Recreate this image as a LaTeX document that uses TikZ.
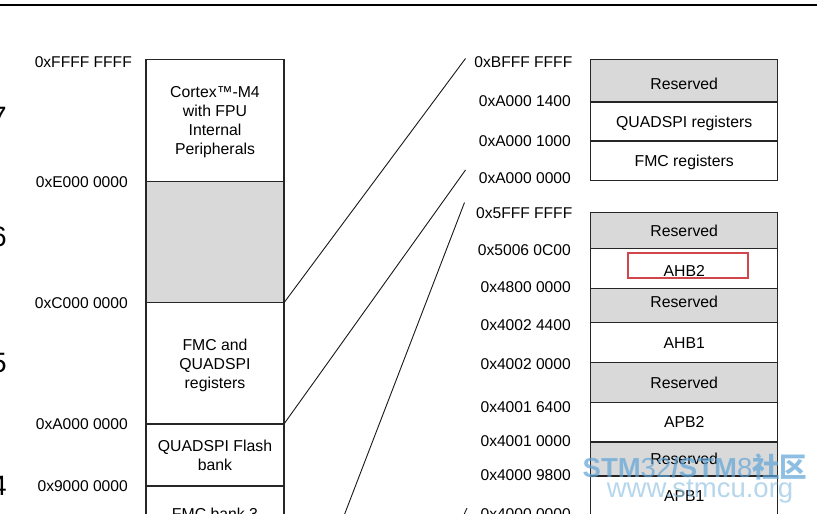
\documentclass[tikz,border=0pt]{standalone}
\usepackage{fontspec}
\setmainfont{Liberation Sans}
\newfontfamily\cjkwm{Noto Sans CJK SC}
\definecolor{mapGray}{RGB}{217,217,217}
\definecolor{mapRed}{RGB}{210,70,75}
\definecolor{wmBlue}{RGB}{95,165,215}
\definecolor{wmLight}{RGB}{150,198,228}
\usetikzlibrary{positioning}

\begin{document}
\begin{tikzpicture}[x=1pt, y=-1pt,
  region/.style={draw=black!85, line width=1.2pt, inner sep=0pt, outer sep=0pt,
                 align=center, text depth=0pt, font=\fontsize{15.8}{19}\selectfont},
  oneline/.style={text height=11.3pt},
  lblk/.style={region, minimum width=138pt},
  rblk/.style={region, oneline, minimum width=187pt},
  rsvd/.style={fill=mapGray},
  addr/.style={anchor=east, inner sep=0pt, font=\fontsize{15.6}{19}\selectfont},
  blkno/.style={anchor=east, inner sep=0pt, font=\fontsize{28}{30}\selectfont},
  hlbox/.style={draw=mapRed, line width=2pt, inner sep=0pt, minimum width=119.4pt, minimum height=25pt},
  link/.style={draw=black!90, line width=0.9pt},
  wm/.style={anchor=base, inner sep=0pt, text opacity=0.7, font=\fontsize{27.5}{29}\selectfont}
]
  \useasboundingbox (0,0) rectangle (817,514);
  \clip (0,0) rectangle (817,514);
  \fill[white] (0,0) rectangle (817,514);
  \draw[line width=1.3pt] (0,5) -- (817,5);

  % left column
  \node[lblk, minimum height=122.2pt, anchor=north] (cortex) at (215,59.5) {Cortex™-M4\\with FPU\\Internal\\Peripherals};
  \node[lblk, rsvd, minimum height=121pt, below=0pt of cortex]  (blk6)   {};
  \node[lblk, minimum height=121.3pt, below=0pt of blk6]        (fmcq)   {FMC and\\QUADSPI\\registers};
  \node[lblk, minimum height=62pt, below=0pt of fmcq]           (qflash) {QUADSPI Flash\\bank};
  \node[lblk, oneline, minimum height=56pt, below=0pt of qflash] (fmcb3) {FMC bank 3};

  \node[addr] (lFFFF) at (132,62)    {0xFFFF FFFF};
  \node[addr] (lE000) at (128,181.7) {0xE000 0000};
  \node[addr] (lC000) at (128,302.7) {0xC000 0000};
  \node[addr] (lA000) at (128,424)   {0xA000 0000};
  \node[addr] (l9000) at (128,486)   {0x9000 0000};

  \node[blkno] (n7) at (7,117) {7};
  \node[blkno] (n6) at (7,237) {6};
  \node[blkno] (n5) at (7,363) {5};
  \node[blkno] (n4) at (7,486) {4};

  % right column
  \node[rblk, rsvd, minimum height=42.8pt, anchor=north, text height=17.7pt] (rsv1) at (684.2,59.1) {Reserved};
  \node[rblk, minimum height=39.1pt, below=0pt of rsv1] (qreg) {QUADSPI registers};
  \node[rblk, minimum height=39.7pt, below=0pt of qreg] (freg) {FMC registers};

  \node[rblk, rsvd, minimum height=36pt, anchor=north] (rsv2) at (684.2,212.5) {Reserved};
  \node[rblk, minimum height=40pt, below=0pt of rsv2, text height=15.1pt] (ahb2) {AHB2};
  \node[rblk, rsvd, minimum height=34pt, below=0pt of ahb2, text depth=6.6pt] (rsv3) {Reserved};
  \node[rblk, minimum height=40pt, below=0pt of rsv3]         (ahb1) {AHB1};
  \node[rblk, rsvd, minimum height=40pt, below=0pt of ahb1]   (rsv4) {Reserved};
  \node[rblk, minimum height=39.4pt, below=0pt of rsv4]       (apb2) {APB2};
  \node[rblk, rsvd, minimum height=34pt, below=0pt of apb2]   (rsv5) {Reserved};
  \node[rblk, minimum height=40pt, below=0pt of rsv5]         (apb1) {APB1};

  \node[hlbox] (ahb2hl) at (688,265.8) {};

  \node[addr] (rBFFF) at (572.5,61.7)  {0xBFFF FFFF};
  \node[addr] (rA014) at (571,101.5)   {0xA000 1400};
  \node[addr] (rA010) at (571,141)     {0xA000 1000};
  \node[addr] (rA000) at (571,177.7)   {0xA000 0000};
  \node[addr] (r5FFF) at (572.5,213)   {0x5FFF FFFF};
  \node[addr] (r5006) at (571,250)     {0x5006 0C00};
  \node[addr] (r4800) at (571,286.7)   {0x4800 0000};
  \node[addr] (r4024) at (571,325)     {0x4002 4400};
  \node[addr] (r4020) at (571,364)     {0x4002 0000};
  \node[addr] (r4016) at (571,406.7)   {0x4001 6400};
  \node[addr] (r4010) at (571,440.7)   {0x4001 0000};
  \node[addr] (r4098) at (571,475)     {0x4000 9800};
  \node[addr] (r4000) at (571,514.5)   {0x4000 0000};

  % zoom lines
  \coordinate (tBFFF) at (465.5,58.5);
  \coordinate (tA000) at (465.5,170);
  \coordinate (t5FFF) at (464.5,202.5);
  \coordinate (b5FFF) at (338.5,530);
  \coordinate (t4000) at (467,508);
  \coordinate (b4000) at (458,528);
  \draw[link] (blk6.south east) -- (tBFFF);
  \draw[link] (fmcq.south east) -- (tA000);
  \draw[link] (t5FFF) -- (b5FFF);
  \draw[link] (t4000) -- (b4000);

  % watermark
  \node[wm, text=wmBlue] (wmA) at (695,477) {\bfseries STM\mdseries 32\bfseries/STM\mdseries 8\cjkwm\bfseries 社区};
  \node[wm, text=wmLight] (wmB) at (700,497) {www.stmcu.org};
\end{tikzpicture}
\end{document}
